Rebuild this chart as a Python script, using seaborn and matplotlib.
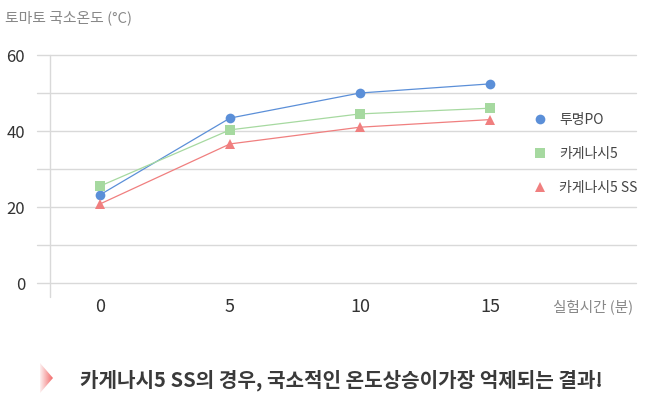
import numpy as np
import pandas as pd
import matplotlib
matplotlib.use("Agg")
from matplotlib import pyplot as plt
from matplotlib.lines import Line2D
from matplotlib.patches import Polygon
from matplotlib.colors import LinearSegmentedColormap
import seaborn as sns

# data
minutes = [0, 5, 10, 15]
po_temp = [23.2, 43.4, 50.0, 52.4]
k5_temp = [25.5, 40.3, 44.5, 46.0]
k5ss_temp = [20.8, 36.6, 41.0, 43.0]
series_names = ["투명PO", "카게나시5", "카게나시5 SS"]
y_ticks = [0, 20, 40, 60]

df = pd.DataFrame({
    "time": minutes * 3,
    "temp": po_temp + k5_temp + k5ss_temp,
    "film": [n for n in series_names for _ in minutes],
})

palette = {"투명PO": "#5b8fd8", "카게나시5": "#a6d9a0", "카게나시5 SS": "#f07f7f"}
markers = {"투명PO": "o", "카게나시5": "s", "카게나시5 SS": "^"}

sns.set_style("white")
plt.rcParams["font.family"] = ["Noto Sans CJK KR", "DejaVu Sans"]

fig = plt.figure(figsize=(6.52, 3.99), dpi=100)
ax = fig.add_axes([37 / 652, 1 - 297 / 399, 599 / 652, 242 / 399])

sns.lineplot(data=df, x="time", y="temp", hue="film", style="film",
             palette=palette, markers=markers, dashes=False, linewidth=0.9,
             markersize=7, markeredgewidth=0, legend=False, ax=ax, zorder=3)

for s in ax.spines.values():
    s.set_visible(False)

# grid every 10 units
for g in range(0, 70, 10):
    ax.axhline(g, color="#d9d9d9", linewidth=1, zorder=1, clip_on=False)

ax.set_xlim(-63 / 26, 15 + 146 / 26)
ax.set_ylim(-14 / 3.8, 60)
ax.axvline(-50 / 26, color="#d9d9d9", linewidth=1, zorder=1, clip_on=False)

ax.set_xticks(minutes)
ax.set_yticks(y_ticks)
ax.tick_params(axis="both", length=0, labelcolor="#333333")
ax.tick_params(axis="y", pad=8.5, labelsize=12)
ax.tick_params(axis="x", pad=1, labelsize=13)
ax.set_xlabel("")
ax.set_ylabel("")

fig.text(5 / 652, 1 - 18 / 399, "토마토 국소온도 (°C)", fontsize=10.7,
         color="#888888", va="center", ha="left")
fig.text(633 / 652, 1 - 307 / 399, "실험시간 (분)", fontsize=10.5,
         color="#888888", va="center", ha="right")

handles = [Line2D([], [], linestyle="none", marker=markers[n], color=palette[n],
                  markersize=7, markeredgewidth=0) for n in series_names]
fig.legend(handles, series_names, loc="upper left",
           bbox_to_anchor=(533 / 652, 1 - 113 / 399), frameon=False,
           fontsize=10, labelcolor="#444444", handlelength=1.0,
           handletextpad=0.9, labelspacing=1.45, borderpad=0, borderaxespad=0)

# gradient arrow in front of the caption
aax = fig.add_axes([40 / 652, 1 - 393 / 399, 13 / 652, 30 / 399])
aax.set_axis_off()
cmap = LinearSegmentedColormap.from_list("fade", ["#fdf0f0", "#f26b6b"])
img = aax.imshow(np.linspace(0, 1, 50).reshape(1, -1), cmap=cmap,
                 extent=[0, 1, 0, 1], aspect="auto")
tri = Polygon([[0, 1], [1, 0.5], [0, 0]], transform=aax.transData,
              facecolor="none", edgecolor="none")
aax.add_patch(tri)
img.set_clip_path(tri)
aax.set_xlim(0, 1)
aax.set_ylim(0, 1)

fig.text(80 / 652, 1 - 380 / 399,
         "카게나시5 SS의 경우, 국소적인 온도상승이가장 억제되는 결과!",
         fontsize=14.5, fontweight="bold", color="#3a3a3a",
         va="center", ha="left")

fig.savefig("out.png", dpi=100)
